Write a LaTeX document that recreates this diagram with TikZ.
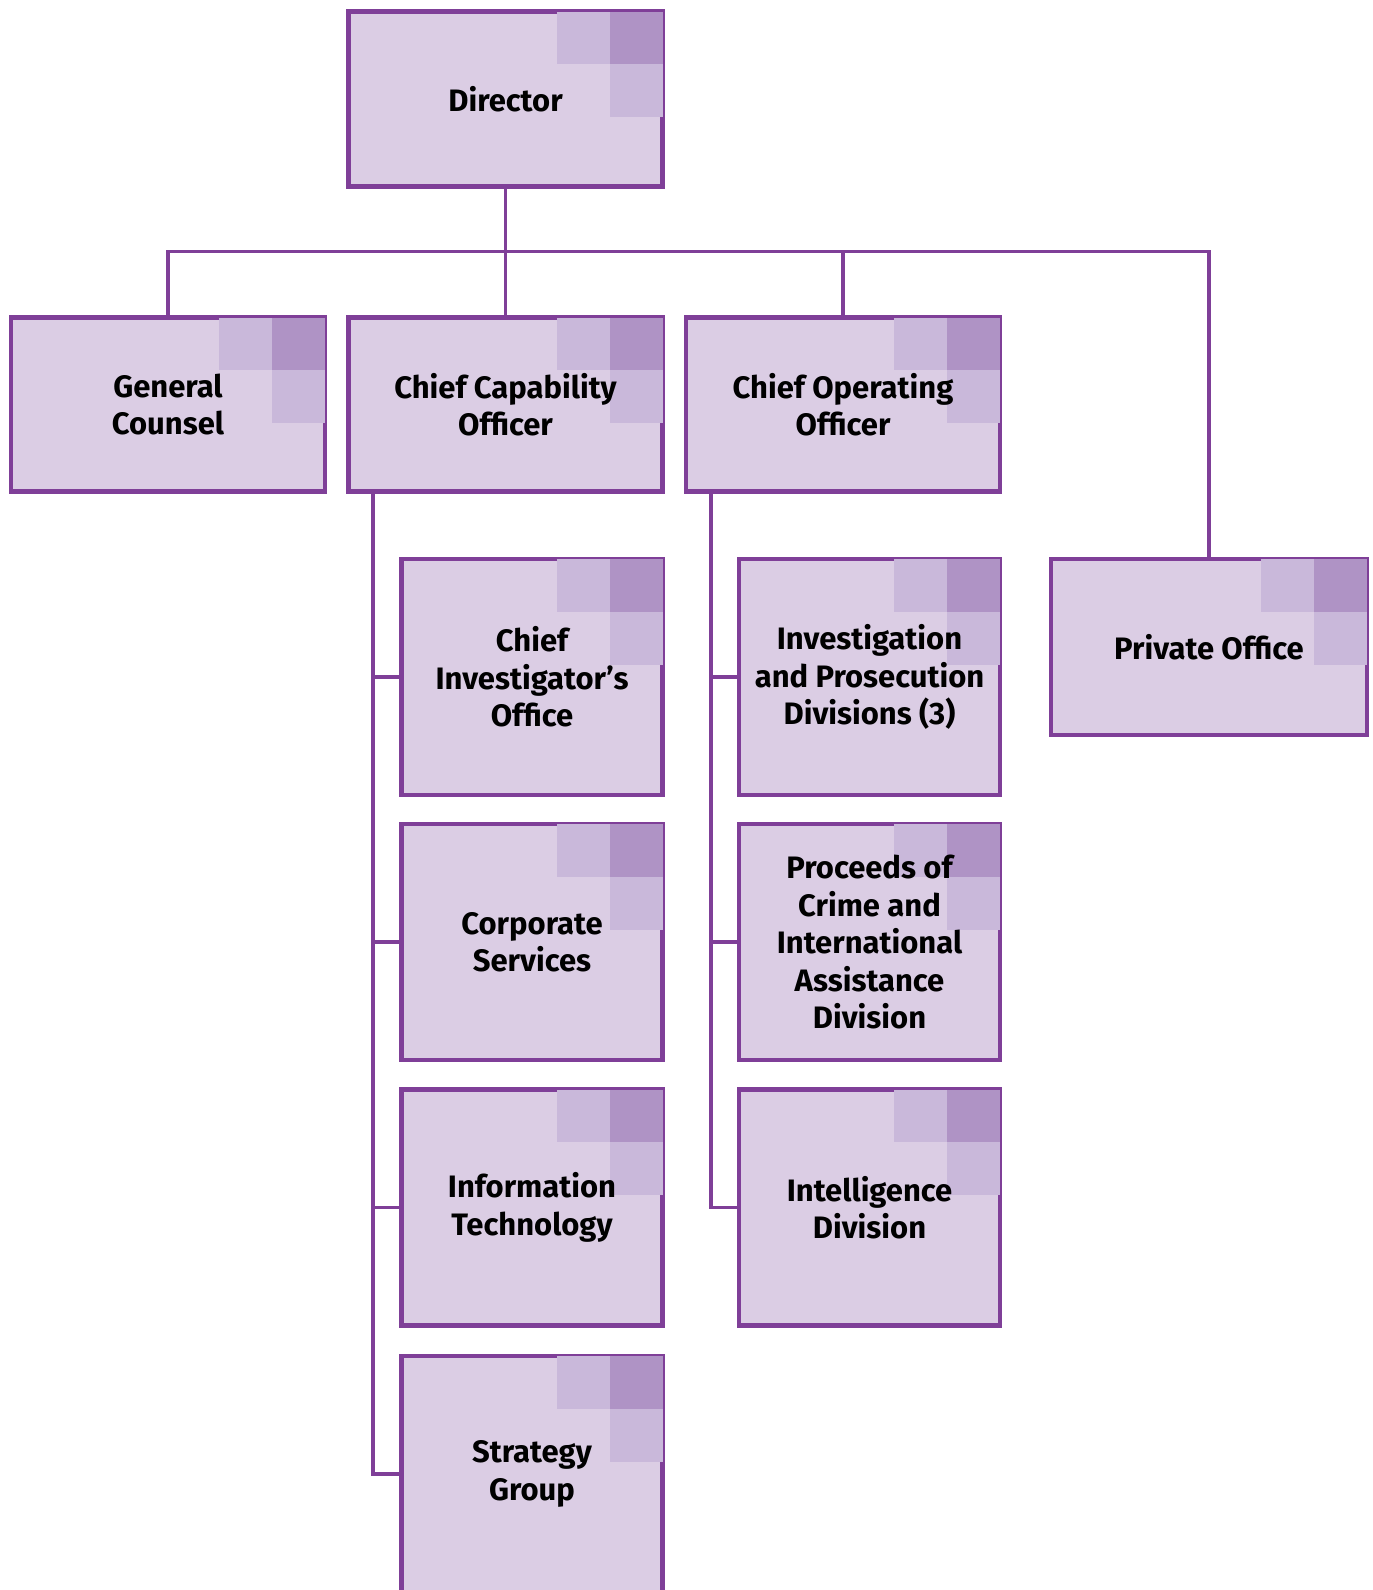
\documentclass[tikz,border=0pt]{standalone}
\usepackage{fontspec}
\setmainfont{Fira Sans}
\definecolor{bord}{HTML}{7F3F98}
\definecolor{boxfill}{HTML}{DBCDE4}
\definecolor{sqlight}{HTML}{C9B8DA}
\definecolor{sqdark}{HTML}{AF93C5}
\tikzset{
  orgnode/.style={draw=bord, fill=boxfill, line width=4.5pt, inner sep=0pt, rectangle},
  lbl/.style={align=center, text=black, font=\fontsize{31}{37.5}\selectfont\bfseries},
  conn/.style={draw=bord, line width=3.5pt},
}
\newcommand{\orgbox}[6]{%
  \node[orgnode, minimum width=#4pt, minimum height=#5pt] (#1) at (#2,#3) {};
  \fill[sqlight] ([xshift=-108pt,yshift=-2.25pt]#1.north east) rectangle ([xshift=-55pt,yshift=-55pt]#1.north east);
  \fill[sqdark] ([xshift=-55pt,yshift=-2.25pt]#1.north east) rectangle ([xshift=-2.25pt,yshift=-55pt]#1.north east);
  \fill[sqlight] ([xshift=-55pt,yshift=-55pt]#1.north east) rectangle ([xshift=-2.25pt,yshift=-108pt]#1.north east);
  \node[lbl] (#1-t) at (#1.center) {#6};
}
\begin{document}
\begin{tikzpicture}[x=1pt, y=-1pt]
\useasboundingbox (0,0) rectangle (1373,1590);
\begin{scope}
\clip (0,0) rectangle (1373,1590);
% boxes
\orgbox{dir}{505.5}{99}{314}{175}{Director}
\orgbox{gc}{168}{404.5}{314}{174}{General\\Counsel}
\orgbox{cco}{505.5}{404.5}{314}{174}{Chief Capability\\Officer}
\orgbox{coo}{843}{404.5}{314}{174}{Chief Operating\\Officer}
\orgbox{po}{1209}{647}{316}{176}{Private Office}
\orgbox{cio}{532}{677}{261}{236}{Chief\\Investigator’s\\Office}
\orgbox{cs}{532}{942}{261}{236}{Corporate\\Services}
\orgbox{it}{532}{1207.5}{261}{236}{Information\\Technology}
\orgbox{sg}{532}{1474}{261}{236}{Strategy\\Group}
\orgbox{ipd}{869.5}{677}{261}{236}{Investigation\\and Prosecution\\Divisions (3)}
\orgbox{poc}{869.5}{942}{261}{236}{Proceeds of\\Crime and\\International\\Assistance\\Division}
\orgbox{intel}{869.5}{1207.5}{261}{236}{Intelligence\\Division}
% connectors
\coordinate (bus) at (505.5,251.5);
\coordinate (sp1) at (373,0);
\coordinate (sp2) at (711,0);
\draw[conn] (dir.south) -- (bus);
\draw[conn] (gc.north) |- (bus) -| (po.north);
\draw[conn] (bus) -- (cco.north);
\draw[conn] (coo.north) -- (coo.north |- bus);
\draw[conn] (sp1 |- cco.south) |- (sg.west);
\draw[conn] (sp1 |- cio.west) -- (cio.west);
\draw[conn] (sp1 |- cs.west) -- (cs.west);
\draw[conn] (sp1 |- it.west) -- (it.west);
\draw[conn] (sp2 |- coo.south) |- (intel.west);
\draw[conn] (sp2 |- ipd.west) -- (ipd.west);
\draw[conn] (sp2 |- poc.west) -- (poc.west);
\end{scope}
\end{tikzpicture}
\end{document}
